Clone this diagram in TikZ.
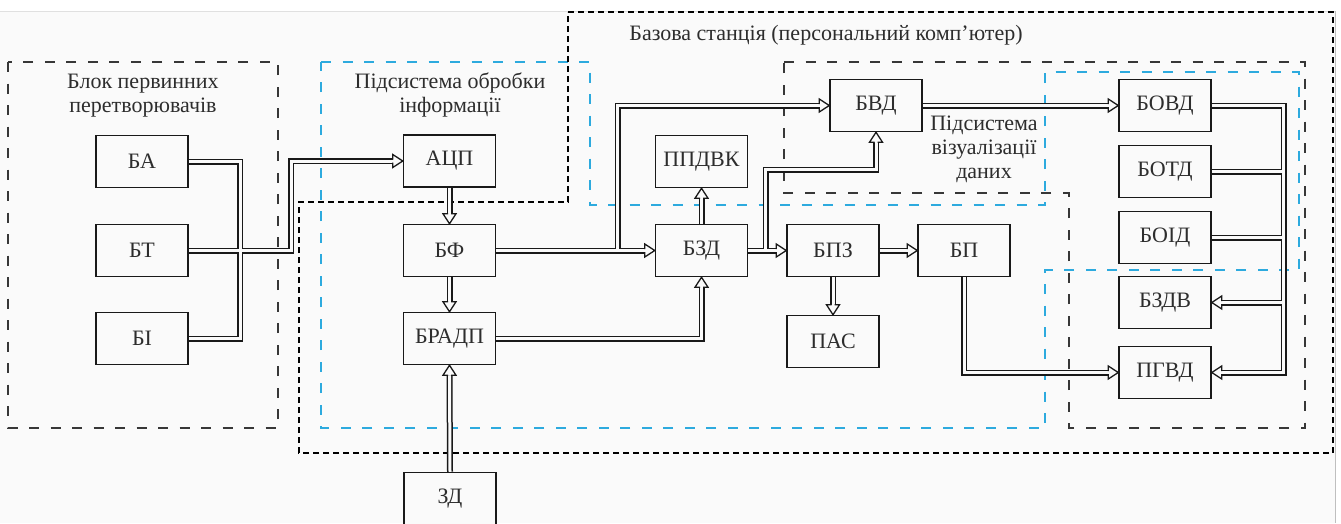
\documentclass[tikz,border=0pt]{standalone}
\usepackage{fontspec}
\setmainfont{Liberation Serif}
\definecolor{bg}{RGB}{250,250,250}
\definecolor{blu}{RGB}{45,170,222}
\definecolor{txt}{RGB}{45,45,45}
\definecolor{dsh}{RGB}{55,55,55}
\tikzset{
  blk/.style={draw=black!90, line width=1.5pt, fill=bg, minimum width=92pt, minimum height=52pt,
    inner sep=0pt, font=\fontsize{22}{24}\selectfont, text=txt},
  grpK/.style={draw=dsh, line width=1.4pt, dash pattern=on 10pt off 11.5pt},
  grpB/.style={draw=blu, line width=1.4pt, dash pattern=on 10pt off 11.5pt},
  grpS/.style={draw=black, line width=1.3pt, dash pattern=on 6pt off 4pt},
  busout/.style={draw=black!90, line width=6pt, line join=miter},
  busin/.style={draw=bg, line width=3pt, line join=miter},
  ttl/.style={font=\fontsize{22}{24}\selectfont, text=txt, align=center, inner sep=0pt},
}
\newcommand\ahd[2]{%
  \begin{scope}[shift={(#1)},rotate=#2]
    \fill[bg] (0,0) -- (-10,6.5) -- (-10,-6.5) -- cycle;
    \draw[black!90,line width=1.3pt,line join=miter] (-10,1.5) -- (-10,6.5) -- (0,0) -- (-10,-6.5) -- (-10,-1.5);
  \end{scope}}
\newcommand\allbuses[1]{%
  \draw[#1] (ba.east) -- (240,161.5) -- (240,338.5) -- (bi.east);
  \draw[#1] (bt.east) -- (291,250.5) -- (291,161) -- ([xshift=-10pt]acp.west);
  \draw[#1] (acp.south) -- ([yshift=10pt]bf.north);
  \draw[#1] (bf.south) -- ([yshift=10pt]bradp.north);
  \draw[#1] (zd.north) -- ([yshift=-10pt]bradp.south);
  \draw[#1] (bf.east) -- ([xshift=-10pt]bzd.west);
  \draw[#1] (617.5,250.5) -- (617.5,105.5) -- ([xshift=-10pt]bvd.west);
  \draw[#1] (bzd.north) -- ([yshift=-10pt]ppdvk.south);
  \draw[#1] (bradp.east) -- (701.5,338.5) -- ([yshift=-10pt]bzd.south);
  \draw[#1] (bzd.east) -- ([xshift=-10pt]bpz.west);
  \draw[#1] (765.5,250.5) -- (765.5,169.5) -- (876,169.5) -- ([yshift=-10pt]bvd.south);
  \draw[#1] (bpz.south) -- ([yshift=10pt]pas.north);
  \draw[#1] (bpz.east) -- ([xshift=-10pt]bp.west);
  \draw[#1] (bp.south) -- (964,372.5) -- ([xshift=-10pt]pgvd.west);
  \draw[#1] (bvd.east) -- ([xshift=-10pt]bovd.west);
  \draw[#1] (bovd.east) -- (1283.5,105.5) -- (1283.5,372.5) -- ([xshift=10pt]pgvd.east);
  \draw[#1] (botd.east) -- (1283.5,171.5);
  \draw[#1] (boid.east) -- (1283.5,237.5);
  \draw[#1] (1283.5,302.5) -- ([xshift=10pt]bzdv.east);
}
\begin{document}
\begin{tikzpicture}[x=1pt,y=-1pt]
\useasboundingbox (0,0) rectangle (1341,523);
\fill[white] (0,0) rectangle (1341,523);
\fill[bg] (0,11) rectangle (1335,523);
\draw[black!12,line width=0.8pt] (0,11) -- (1335,11);
\draw[black!25,line width=1pt] (1335.5,11) -- (1335.5,523);

% group outlines
\draw[grpK] (8,62) rectangle (278,428);
\draw[grpB] (321,62) -- (590,62) -- (590,205) -- (1045,205) -- (1045,72) -- (1299,72) -- (1299,270)
  -- (1045,270) -- (1045,428) -- (321,428) -- cycle;
\draw[grpS] (568,12) -- (1333,12) -- (1333,453) -- (299,453) -- (299,202) -- (568,202) -- cycle;
\draw[grpK] (784,62) -- (1305,62) -- (1305,428) -- (1069,428) -- (1069,193) -- (784,193) -- cycle;

% titles
\node[ttl] (t1) at (143,96) {Блок первинних\\перетворювачів};
\node[ttl] (t2) at (450,95) {Підсистема обробки\\інформації};
\node[ttl] (t3) at (826,35) {Базова станція (персональний комп’ютер)};
\node[ttl] (t4) at (984,149) {Підсистема\\візуалізації\\даних};

% blocks
\node[blk] (ba) at (142,161.5) {БА};
\node[blk] (bt) at (142,250.5) {БТ};
\node[blk] (bi) at (142,338.5) {БІ};
\node[blk] (acp) at (449.5,161) {АЦП};
\node[blk] (bf) at (449.5,250.5) {БФ};
\node[blk] (bradp) at (449.5,338.5) {БРАДП};
\node[blk] (zd) at (450,498.5) {ЗД};
\node[blk] (ppdvk) at (701.5,161.5) {ППДВК};
\node[blk] (bzd) at (701.5,250.5) {БЗД};
\node[blk] (bvd) at (876,105.5) {БВД};
\node[blk] (bpz) at (833,250.5) {БПЗ};
\node[blk] (pas) at (833,341.5) {ПАС};
\node[blk] (bp) at (964,250.5) {БП};
\node[blk] (bovd) at (1165,105.5) {БОВД};
\node[blk] (botd) at (1165,171.5) {БОТД};
\node[blk] (boid) at (1165,237.5) {БОІД};
\node[blk] (bzdv) at (1165,302.5) {БЗДВ};
\node[blk] (pgvd) at (1165,372.5) {ПГВД};

% connectors: outer black pass, then inner gap pass
\allbuses{busout}
\allbuses{busin}

% arrowheads
\ahd{acp.west}{0}
\ahd{bf.north}{-90}
\ahd{bradp.north}{-90}
\ahd{bradp.south}{90}
\ahd{bzd.west}{0}
\ahd{bvd.west}{0}
\ahd{ppdvk.south}{90}
\ahd{bzd.south}{90}
\ahd{bpz.west}{0}
\ahd{bvd.south}{90}
\ahd{pas.north}{-90}
\ahd{bp.west}{0}
\ahd{pgvd.west}{0}
\ahd{bovd.west}{0}
\ahd{pgvd.east}{180}
\ahd{bzdv.east}{180}
\end{tikzpicture}
\end{document}
